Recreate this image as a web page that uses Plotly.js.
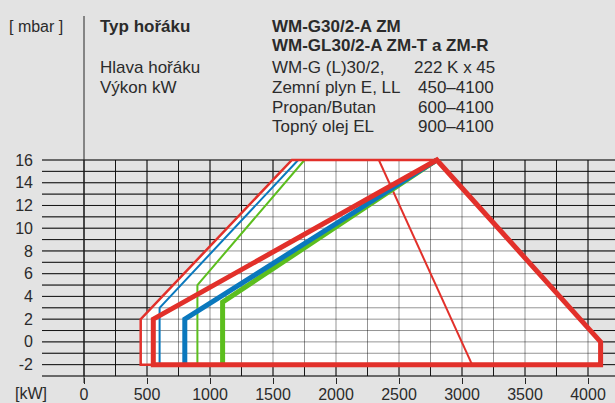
<!DOCTYPE html>
<html>
<head>
<meta charset="utf-8">
<script src="https://cdn.plot.ly/plotly-3.0.1.min.js"></script>
<style>html,body{margin:0;padding:0;background:#e3e3e3;}#chart{width:615px;height:403px;}</style>
</head>
<body>
<div id="chart"></div>
<script>
// ---- data (kW, mbar) ----
const envelopeX = [450, 450, 1650, 2800, 4100, 4100, 450];
const envelopeY = [-2, 2, 16, 16, 0, -2, -2];
const thinRedX = [550, 450, 450, 1650, 2800];
const thinRedY = [-2, -2, 2, 16, 16];
const thinBlueX = [600, 600, 1700];
const thinBlueY = [-2, 3, 16];
const thinGreenX = [900, 900, 1750];
const thinGreenY = [-2, 5, 16];
const limitX = [2340, 3080];
const limitY = [16, -2];
const gasX = [550, 550, 2800, 4100, 4100, 550, 550];
const gasY = [-2, 2, 16, 0, -2, -2, 2];
const propaneX = [800, 800, 2800];
const propaneY = [-2, 2, 16];
const oilX = [1100, 1100, 2800];
const oilY = [-2, 3.5, 16];
const xTickVals = [0, 500, 1000, 1500, 2000, 2500, 3000, 3500, 4000];
const yTickVals = [-2, 0, 2, 4, 6, 8, 10, 12, 14, 16];

const RED = '#e2302a', BLUE = '#0a78bd', GREEN = '#5cbe1e';
const X_RANGE = [-333.3, 4214.3];
const Y_RANGE = [-3.088, 16.44];

// grid line geometry (every 250 kW, every 1 mbar)
function gridPath() {
  const gx = [], gy = [];
  for (let v = 0; v <= 4000; v += 250) { gx.push(v, v, null); gy.push(-3, 16, null); }
  for (let h = -3; h <= 16; h += 1) { gx.push(X_RANGE[0], X_RANGE[1], null); gy.push(h, h, null); }
  return {x: gx, y: gy};
}
const grid = gridPath();

const line = (x, y, color, width) => ({
  type: 'scatter', mode: 'lines', x: x, y: y, hoverinfo: 'skip', showlegend: false,
  line: {color: color, width: width, shape: 'linear'}
});

const traces = [
  Object.assign(line(grid.x, grid.y, '#262626', 1), {connectgaps: false}),
  {type: 'scatter', mode: 'lines', x: envelopeX, y: envelopeY, fill: 'toself',
   fillcolor: '#ffffff', line: {width: 0, color: 'rgba(0,0,0,0)'}, hoverinfo: 'skip', showlegend: false},
  Object.assign(line(grid.x, grid.y, 'rgba(0,0,0,0.42)', 1), {connectgaps: false}),
  line(thinGreenX, thinGreenY, GREEN, 2),
  line(thinBlueX, thinBlueY, BLUE, 2),
  line(limitX, limitY, RED, 2),
  line(thinRedX, thinRedY, RED, 2.5),
  line(oilX, oilY, GREEN, 5),
  line(propaneX, propaneY, BLUE, 5),
  line(gasX, gasY, RED, 5)
];

const L = 42, T = 155, W = 573, H = 222;
const px = v => (v - L) / W;
const py = v => (T + H - v) / H;
const FONT = 'Liberation Sans, Arial, sans-serif';
const TXT = '#2b2b2b';
function ann(text, x, y, opts) {
  return Object.assign({text: text, x: px(x), y: py(y), xref: 'paper', yref: 'paper',
    xanchor: 'left', yanchor: 'middle', showarrow: false,
    font: {family: FONT, size: 17, color: TXT}}, opts || {});
}

const annotations = [
  ann('[ mbar ]', 7, 26, {font: {family: FONT, size: 16, color: TXT}}),
  ann('<b>Typ hořáku</b>', 98, 26),
  ann('Hlava hořáku', 98, 67),
  ann('Výkon kW', 98, 87),
  ann('<b>WM-G30/2-A ZM</b>', 270, 26),
  ann('<b>WM-GL30/2-A ZM-T a ZM-R</b>', 270, 46),
  ann('WM-G (L)30/2,', 270, 67),
  ann('222 K x 45', 412, 67),
  ann('Zemní plyn E, LL', 270, 87),
  ann('450–4100', 416, 87),
  ann('Propan/Butan', 270, 107),
  ann('600–4100', 416, 107),
  ann('Topný olej EL', 270, 127),
  ann('900–4100', 416, 127),
  ann('[kW]', 13, 393, {font: {family: FONT, size: 16, color: TXT}})
];

const layout = {
  width: 615, height: 403,
  margin: {l: L, r: 615 - L - W, t: T, b: 403 - T - H, pad: 0},
  paper_bgcolor: '#e3e3e3', plot_bgcolor: '#e3e3e3',
  showlegend: false,
  xaxis: {range: X_RANGE, showgrid: false, zeroline: false, showline: false,
    tickmode: 'array', tickvals: xTickVals, ticktext: xTickVals.map(String),
    ticks: 'outside', ticklen: 6, tickwidth: 1, tickcolor: '#262626', ticklabelstandoff: -3,
    tickfont: {family: FONT, size: 16, color: TXT}, fixedrange: true},
  yaxis: {range: Y_RANGE, showgrid: false, zeroline: false, showline: false,
    tickmode: 'array', tickvals: yTickVals, ticktext: yTickVals.map(String),
    ticks: '', ticklabelstandoff: 8,
    tickfont: {family: FONT, size: 16, color: TXT}, fixedrange: true},
  shapes: [{type: 'line', xref: 'x', yref: 'paper', x0: 0, x1: 0,
    y0: py(383), y1: py(16), line: {color: '#262626', width: 1}, layer: 'above'}],
  annotations: annotations
};

Plotly.newPlot('chart', traces, layout, {staticPlot: true, displayModeBar: false});
</script>
</body>
</html>
